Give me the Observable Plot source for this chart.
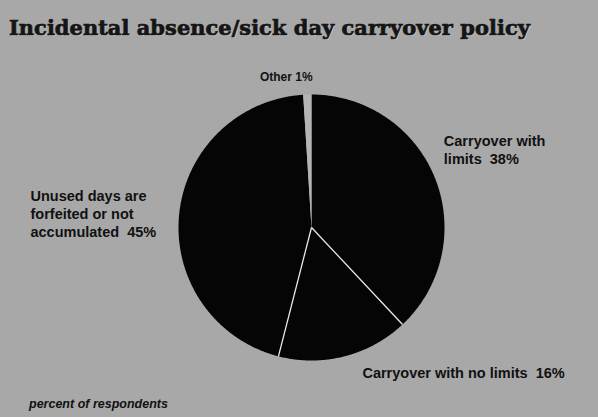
<!DOCTYPE html>
<html><head><meta charset="utf-8">
<script src="https://cdn.jsdelivr.net/npm/d3@7"></script>
<script src="https://cdn.jsdelivr.net/npm/@observablehq/plot@0.6"></script>
<style>
html,body{margin:0;padding:0;}
body{width:598px;height:417px;overflow:hidden;background:#a8a8a8;position:relative;}
#title{position:absolute;left:9px;top:17px;font-family:"DejaVu Serif",serif;font-weight:bold;font-size:21px;line-height:22px;color:#151515;white-space:nowrap;-webkit-text-stroke:0.7px #151515;text-shadow:1px 1px 0 rgba(255,255,255,0.35);}
#chart{position:absolute;left:0;top:50px;}
#caption{position:absolute;left:29px;top:398px;font-family:"Liberation Sans",Arial,sans-serif;font-weight:bold;font-style:italic;font-size:12.5px;line-height:12px;color:#111;white-space:nowrap;}
</style></head><body>
<div id="title">Incidental absence/sick day carryover policy</div>
<div id="chart"></div>
<div id="caption">percent of respondents</div>
<script>
// Data
const categories = ["Carryover with limits", "Carryover with no limits", "Unused days are forfeited or not accumulated", "Other"];
const values = [38, 16, 45, 1];
const labelTexts = ["Carryover with\nlimits  38%", "Carryover with no limits  16%", "Unused days are\nforfeited or not\naccumulated  45%", "Other 1%"];
const sliceColors = ["#050505", "#050505", "#050505", "#b4b4b4"];

// Layout (label anchor positions in pie-radius units)
const labelLayout = [
  {x: 0.995, y: 0.586, anchor: "start", size: 14.5},
  {x: 0.383, y: -1.09, anchor: "start", size: 14.5},
  {x: -2.113, y: 0.105, anchor: "start", size: 14.5},
  {x: -0.19, y: 1.135, anchor: "middle", size: 12}
];

const W = 598, H = 345, cx = 311, cy = 177, R = 133;
const total = d3.sum(values);
const slices = [];
let acc = 0;
values.forEach((v, i) => {
  const a0 = acc / total * 2 * Math.PI;
  acc += v;
  const a1 = acc / total * 2 * Math.PI;
  slices.push({cat: categories[i], a0, a1});
});
// polygon points for each wedge
const pts = [];
for (const s of slices) {
  pts.push({cat: s.cat, x: 0, y: 0});
  const n = Math.max(2, Math.ceil((s.a1 - s.a0) / (Math.PI / 360)));
  for (let k = 0; k <= n; k++) {
    const a = s.a0 + (s.a1 - s.a0) * k / n;
    pts.push({cat: s.cat, x: Math.sin(a), y: Math.cos(a)});
  }
}
// separators between black slices
const seps = slices.slice(0, 2).map(s => ({x2: Math.sin(s.a1), y2: Math.cos(s.a1)}));
const labels = labelTexts.map((t, i) => ({text: t, ...labelLayout[i]}));
const textStyle = {x: "x", y: "y", text: "text", lineHeight: 1.24,
  fontFamily: "'Liberation Sans', Arial, sans-serif", fontWeight: "bold", fill: "#111"};

const plot = Plot.plot({
  width: W, height: H,
  marginLeft: cx - R, marginRight: W - (cx + R),
  marginTop: cy - R, marginBottom: H - (cy + R),
  x: {domain: [-1, 1], axis: null},
  y: {domain: [-1, 1], axis: null},
  color: {domain: categories, range: sliceColors},
  style: {background: "transparent", overflow: "visible"},
  marks: [
    Plot.line(pts, {x: "x", y: "y", z: "cat", fill: "cat", stroke: "none", curve: "linear-closed"}),
    Plot.link(seps, {x1: 0, y1: 0, x2: "x2", y2: "y2", stroke: "#e8e8e8", strokeWidth: 1.3}),
    Plot.text(labels.filter(d => d.anchor === "start"), {...textStyle, textAnchor: "start", fontSize: 14.5}),
    Plot.text(labels.filter(d => d.anchor === "middle"), {...textStyle, textAnchor: "middle", fontSize: 12})
  ]
});
document.getElementById("chart").appendChild(plot);
</script>
</body></html>
